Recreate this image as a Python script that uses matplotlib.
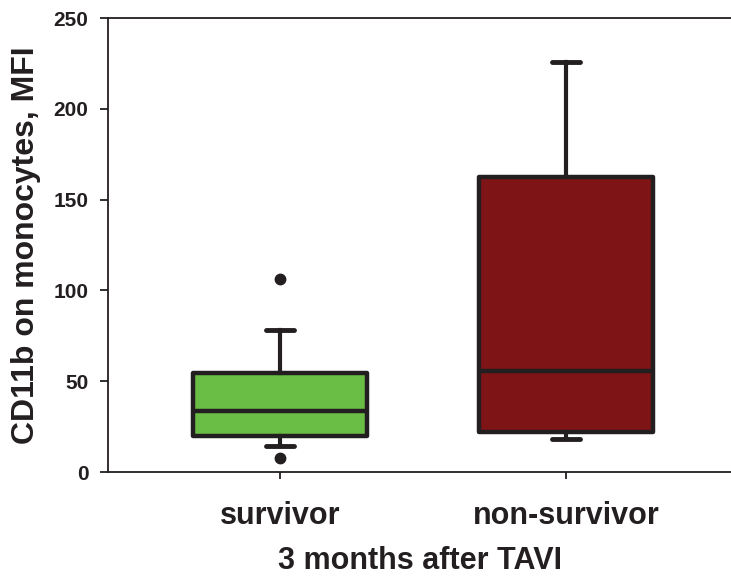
import numpy as np
import matplotlib
matplotlib.use("Agg")
import matplotlib.pyplot as plt

plt.rcParams['font.family'] = ['Liberation Sans', 'DejaVu Sans']
plt.rcParams['font.weight'] = 'bold'

groups = ['survivor', 'non-survivor']
# five-number summaries: whislo, q1, med, q3, whishi
whislo = [14.2, 18.2]
q1 = [19.7, 22.3]
med = [33.5, 55.8]
q3 = [54.3, 162.6]
whishi = [78.1, 225.7]
fliers = [[106.4, 7.5], []]
colors = ['#6abd45', '#7f1416']

dark = '#231f20'

stats = []
for i in range(len(groups)):
    stats.append(dict(label=groups[i], whislo=whislo[i], q1=q1[i], med=med[i],
                      q3=q3[i], whishi=whishi[i], fliers=fliers[i]))

fig = plt.figure(figsize=(7.31, 5.79), dpi=100)
ax = fig.add_axes([108/731, 107/579, 1 - 108/731, 454/579])

bp = ax.bxp(stats, positions=[1, 2], widths=0.61, patch_artist=True,
            capwidths=0.1,
            boxprops=dict(linewidth=3.2, edgecolor=dark),
            medianprops=dict(linewidth=3.2, color=dark),
            whiskerprops=dict(linewidth=3, color=dark),
            capprops=dict(linewidth=3.5, color=dark, solid_capstyle='round'),
            flierprops=dict(marker='o', markerfacecolor=dark, markeredgecolor=dark,
                            markersize=7.5))
for patch, c in zip(bp['boxes'], colors):
    patch.set_facecolor(c)
    patch.set_joinstyle('round')

ax.set_xlim(0.399, 2.577)
ax.set_ylim(0, 250)
ax.set_yticks([0, 50, 100, 150, 200, 250])
ax.spines['right'].set_visible(False)
for s in ['left', 'top', 'bottom']:
    ax.spines[s].set_linewidth(1.3)
    ax.spines[s].set_color(dark)

ax.tick_params(axis='y', direction='out', length=6, width=1.3, colors=dark,
               labelsize=15, pad=8)
ax.tick_params(axis='x', direction='out', length=5, width=1.3, colors=dark,
               labelsize=22, pad=16)
for t in ax.get_xticklabels() + ax.get_yticklabels():
    t.set_fontweight('bold')
    t.set_color(dark)

ax.set_xlabel('3 months after TAVI', fontsize=22, fontweight='bold', color=dark, labelpad=11)
ax.set_ylabel('CD11b on monocytes, MFI', fontsize=23, fontweight='bold', color=dark, labelpad=9)

fig.savefig('out.png', dpi=100)
